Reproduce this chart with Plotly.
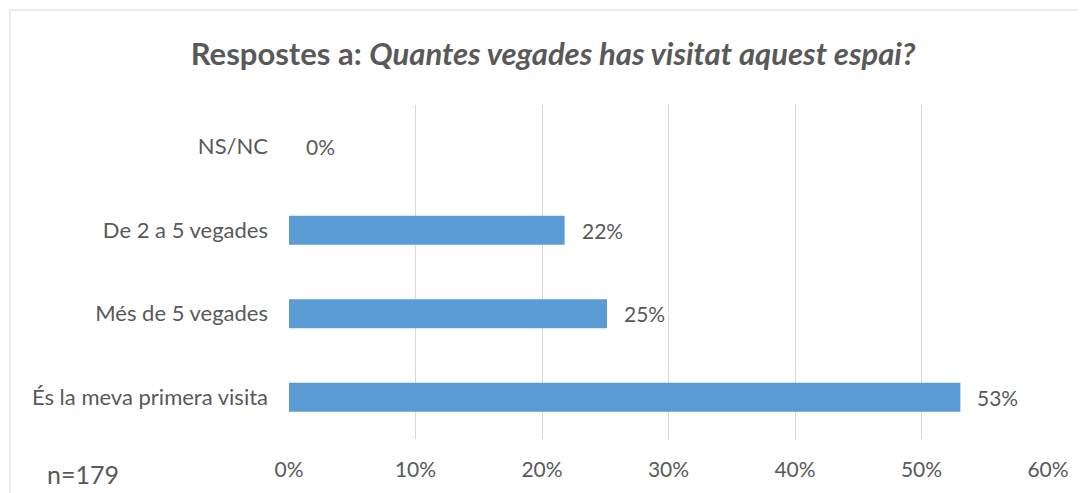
import plotly.graph_objects as go

categories = ["És la meva primera visita", "Més de 5 vegades", "De 2 a 5 vegades", "NS/NC"]
counts = [95, 45, 39, 0]
n_total = 179
percentages = [c / n_total * 100 for c in counts]
labels = [f"{round(p)}%" for p in percentages]
tick_vals = [0, 10, 20, 30, 40, 50, 60]
tick_text = [f"{v}%" for v in tick_vals]

FONT = "Lato, Open Sans, sans-serif"
TXT = "#595959"

fig = go.Figure(go.Bar(
    x=percentages, y=categories, orientation="h",
    marker=dict(color="#5B9BD5", line=dict(width=0)),
    width=0.35,
))

# page body has an 8px margin, so figure pixel = screen pixel - 8
OFF = 8
W, H = 1078, 485
L, T = 289 - OFF, 105 - OFF
R = W - (1048 - OFF)
B = H - (439 - OFF)
pw, ph = W - L - R, H - T - B

def px_x(x):
    return (x - OFF - L) / pw

def px_y(y):
    return (H - B - (y - OFF)) / ph

annotations = [dict(
    text=lab, x=p, y=cat, xref="x", yref="y",
    xanchor="left", yanchor="middle", xshift=15, showarrow=False,
    font=dict(family=FONT, size=21, color=TXT),
) for p, cat, lab in zip(percentages, categories, labels)]

annotations.append(dict(
    text=f"n={n_total}", xref="paper", yref="paper",
    x=px_x(83), y=px_y(474), xanchor="center", yanchor="middle",
    showarrow=False, font=dict(family=FONT, size=25, color=TXT),
))

fig.update_layout(
    width=W, height=H,
    margin=dict(l=L, r=R, t=T, b=B, autoexpand=False),
    paper_bgcolor="white", plot_bgcolor="white",
    showlegend=False,
    title=dict(
        text="<b>Respostes a: <i>Quantes vegades has visitat aquest espai?</i></b>",
        x=(553 - OFF) / W, xanchor="center", y=1 - (54 - OFF) / H, yanchor="middle",
        font=dict(family=FONT, size=31, color=TXT),
        automargin=False,
    ),
    xaxis=dict(
        range=[0, 60], tickvals=tick_vals, ticktext=tick_text,
        showgrid=True, gridcolor="#D9D9D9", gridwidth=1,
        zeroline=False, showline=False, ticks="",
        tickfont=dict(family=FONT, size=21, color=TXT),
        ticklabelstandoff=16, automargin=False,
    ),
    yaxis=dict(
        range=[-0.5, 3.5], showgrid=False, zeroline=False, showline=False,
        ticks="", tickfont=dict(family=FONT, size=22, color=TXT),
        ticklabelstandoff=20, automargin=False,
    ),
    shapes=[dict(
        type="rect", xref="paper", yref="paper",
        x0=px_x(10), x1=px_x(1080), y0=px_y(540), y1=px_y(10),
        line=dict(color="#D9D9D9", width=1), fillcolor="rgba(0,0,0,0)", layer="below",
    )],
    annotations=annotations,
)

fig.write_html("out.html")
